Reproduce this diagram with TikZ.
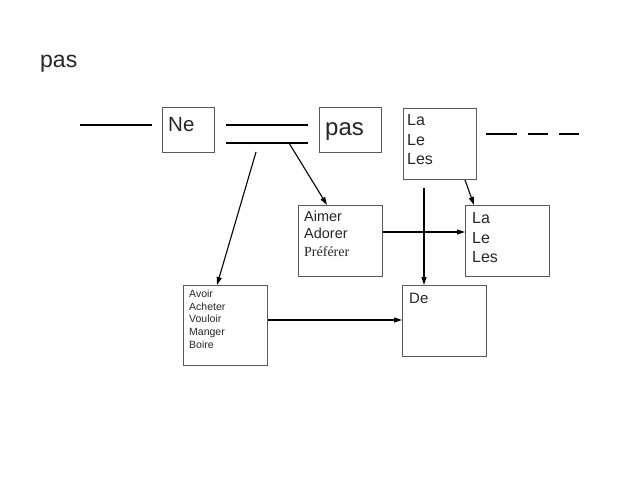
\documentclass[tikz,border=0pt]{standalone}
\usepackage{fontspec}
\setmainfont{Liberation Sans}
\newfontfamily\seriffont{Liberation Serif}
\usetikzlibrary{arrows.meta}
\begin{document}
\begin{tikzpicture}[x=1pt,y=-1pt,
  box/.style={draw=black!65, line width=1pt, anchor=north west, inner sep=0pt, minimum width=#1},
  box/.default=84,
  txt/.style={anchor=base west, inner sep=0pt, text=black!85},
  thick line/.style={line width=1.8pt},
  arr/.style={line width=1.1pt, -{Triangle[length=8pt,width=5pt]}}]
\useasboundingbox (0,0) rectangle (640,480);
% title
\node[txt, font=\fontsize{23}{26}\selectfont] (title) at (40,67) {pas};
% boxes
\node[box=52, minimum height=45] (ne) at (162,107) {};
\node[box=62, minimum height=45] (pasbox) at (319,107) {};
\node[box=73, minimum height=71] (lltop) at (403,108) {};
\node[box=84, minimum height=71] (aimer) at (298,205) {};
\node[box=84, minimum height=71] (llbox) at (465,205) {};
\node[box=84, minimum height=80] (avoir) at (183,285) {};
\node[box=84, minimum height=71] (de) at (402,285) {};
% texts
\node[txt, font=\fontsize{20.5}{24}\selectfont] (tne) at (168,131) {Ne};
\node[txt, font=\fontsize{24}{28}\selectfont] (tpas) at (325,135) {pas};
\begin{scope}[font=\fontsize{16}{19}\selectfont]
\node[txt] (t1a) at (407,125) {La};
\node[txt] (t1b) at (407,145) {Le};
\node[txt] (t1c) at (407,164) {Les};
\node[txt] (t2a) at (472,223) {La};
\node[txt] (t2b) at (472,243) {Le};
\node[txt] (t2c) at (472,262) {Les};
\end{scope}
\begin{scope}[font=\fontsize{14.5}{17}\selectfont]
\node[txt] (ta) at (304,221) {Aimer};
\node[txt] (tb) at (304,238) {Adorer};
\node[txt, font=\seriffont\fontsize{14}{17}\selectfont] (tc) at (304,256) {Préférer};
\node[txt, font=\fontsize{15}{17}\selectfont] (tde) at (409,303) {De};
\end{scope}
\begin{scope}[font=\fontsize{10.5}{12}\selectfont]
\node[txt] (v1) at (189,297) {Avoir};
\node[txt] (v2) at (189,310) {Acheter};
\node[txt] (v3) at (189,322) {Vouloir};
\node[txt] (v4) at (189,335) {Manger};
\node[txt] (v5) at (189,348) {Boire};
\end{scope}
% lines
\coordinate (l1a) at (80,125);  \coordinate (l1b) at (152,125);
\coordinate (l2a) at (226,125); \coordinate (l2b) at (308,125);
\coordinate (l3a) at (226,143); \coordinate (l3b) at (308,143);
\draw[thick line] (l1a) -- (l1b);
\draw[thick line] (l2a) -- (l2b);
\draw[thick line] (l3a) -- (l3b);
\coordinate (d1) at (486,134); \coordinate (d2) at (517,134);
\coordinate (d3) at (528,134); \coordinate (d4) at (548,134);
\coordinate (d5) at (559,134); \coordinate (d6) at (579,134);
\draw[thick line] (d1) -- (d2) (d3) -- (d4) (d5) -- (d6);
% arrows
\coordinate (s1) at (256,152);
\coordinate (s2) at (289,143);
\coordinate (s3) at (424,188);
\draw[arr] (s1) -- ([xshift=34pt]avoir.north west);
\draw[arr] (s2) -- ([xshift=29pt]aimer.north west);
\draw[arr] (s3) -- ([xshift=22pt]de.north west);
\draw[arr] ([xshift=62pt]lltop.south west) -- ([xshift=9pt]llbox.north west);
\draw[arr] ([yshift=-27pt]aimer.north east) -- ([yshift=-27pt]llbox.north west);
\draw[arr] ([yshift=-35pt]avoir.north east) -- ([yshift=-35pt]de.north west);
\end{tikzpicture}
\end{document}
